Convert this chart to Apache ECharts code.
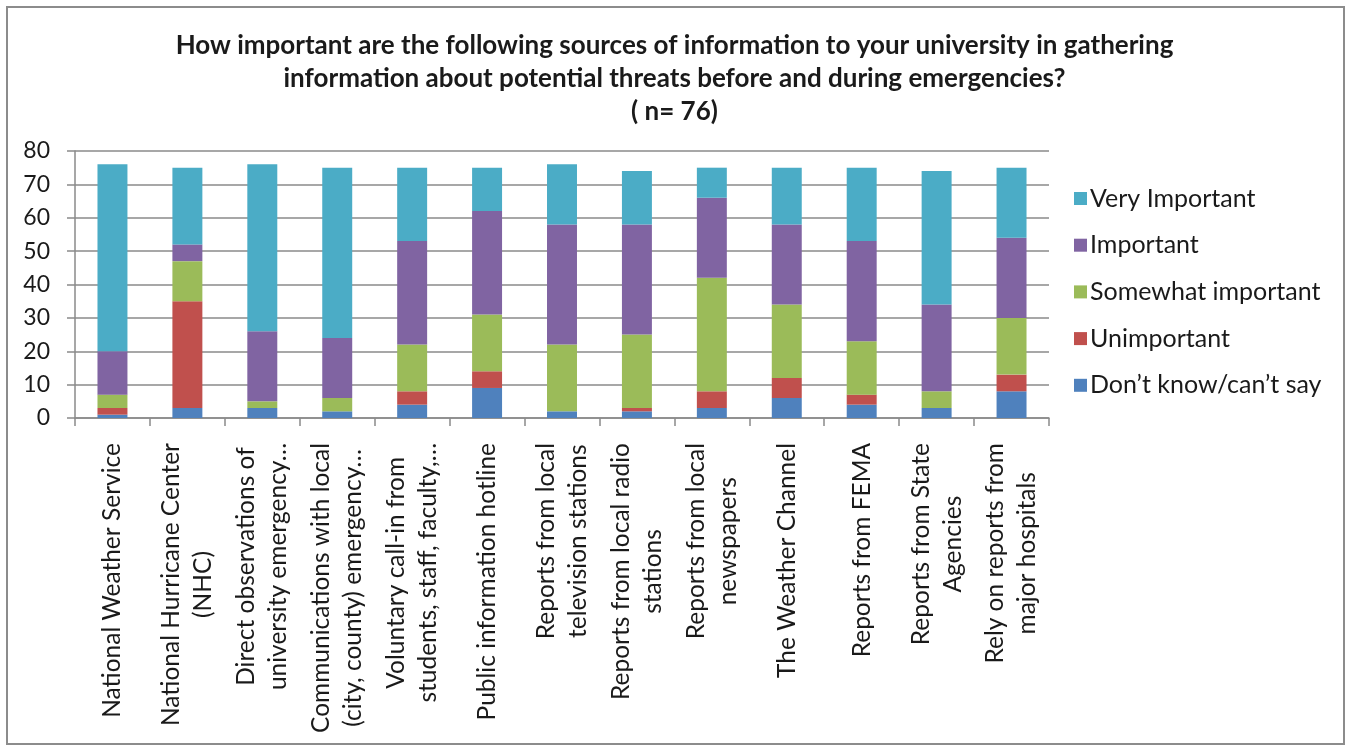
<!DOCTYPE html>
<html>
<head>
<meta charset="utf-8">
<title>Sources of information before and during emergencies</title>
<script src="https://cdn.jsdelivr.net/npm/echarts@6/dist/echarts.min.js"></script>
<style>
  html, body { margin: 0; padding: 0; background: #ffffff; }
  #chart { width: 1349px; height: 748px; }
</style>
</head>
<body>
<div id="chart"></div>
<script>
// Survey sources (each entry is one label, split into its display lines)
const categories = [
  ["National Weather Service"],
  ["National Hurricane Center", "(NHC)"],
  ["Direct observations of", "university emergency\u2026"],
  ["Communications with local", "(city, county) emergency\u2026"],
  ["Voluntary call-in from", "students, staff, faculty,\u2026"],
  ["Public information hotline"],
  ["Reports from local", "television stations"],
  ["Reports from local radio", "stations"],
  ["Reports from local", "newspapers"],
  ["The Weather Channel"],
  ["Reports from FEMA"],
  ["Reports from State", "Agencies"],
  ["Rely on reports from", "major hospitals"]
];

// Response counts per source (n = 76)
const dontKnow      = [1, 3, 3, 2, 4, 9, 2, 2, 3, 6, 4, 3, 8];
const unimportant   = [2, 32, 0, 0, 4, 5, 0, 1, 5, 6, 3, 0, 5];
const somewhat      = [4, 12, 2, 4, 14, 17, 20, 22, 34, 22, 16, 5, 17];
const important     = [13, 5, 21, 18, 31, 31, 36, 33, 24, 24, 30, 26, 24];
const veryImportant = [56, 23, 50, 51, 22, 13, 18, 16, 9, 17, 22, 40, 21];

const yTicks = [0, 10, 20, 30, 40, 50, 60, 70, 80];

const titleLines = [
  "How important are the following sources of information to your university in gathering",
  "information about potential threats before and during emergencies?",
  "( n= 76)"
];

// stacking order from bottom to top
const seriesDefs = [
  { name: "Don\u2019t know/can\u2019t say", data: dontKnow, color: "#4F81BD" },
  { name: "Unimportant", data: unimportant, color: "#C0504D" },
  { name: "Somewhat important", data: somewhat, color: "#9BBB59" },
  { name: "Important", data: important, color: "#8064A2" },
  { name: "Very Important", data: veryImportant, color: "#4BACC6" }
];

const FONT = "Lato";
const TEXT_COLOR = "#1a1a1a";
const GRID_COLOR = "#8a8a8a";

const catKeys = categories.map(function (lines) { return lines.join("\n"); });

const chart = echarts.init(document.getElementById("chart"), null, { renderer: "canvas" });

chart.setOption({
  backgroundColor: "#ffffff",
  animation: false,
  title: {
    text: titleLines.join("\n"),
    left: "center",
    top: 24,
    textStyle: {
      fontFamily: FONT,
      fontSize: 26,
      fontWeight: "bold",
      color: TEXT_COLOR,
      lineHeight: 33
    }
  },
  graphic: [{
    type: "rect",
    shape: { x: 7, y: 7, width: 1337, height: 737 },
    style: { fill: "none", stroke: "#8c8c8c", lineWidth: 2 },
    silent: true
  }],
  legend: {
    orient: "vertical",
    left: 1069,
    top: 181,
    itemWidth: 13,
    itemHeight: 13,
    itemGap: 21.7,
    icon: "rect",
    data: seriesDefs.slice().reverse().map(function (s) { return s.name; }),
    textStyle: {
      fontFamily: FONT,
      fontSize: 25,
      color: TEXT_COLOR,
      lineHeight: 25,
      padding: [0, 0, 0, -2]
    }
  },
  grid: {
    left: 75,
    right: 300,
    top: 151,
    bottom: 330
  },
  xAxis: {
    type: "category",
    data: catKeys,
    axisLine: { show: true, lineStyle: { color: GRID_COLOR, width: 1.5 } },
    axisTick: { show: true, length: 8, lineStyle: { color: GRID_COLOR, width: 1.5 } },
    axisLabel: {
      interval: 0,
      rotate: 90,
      margin: 25,
      color: TEXT_COLOR,
      fontFamily: FONT,
      fontSize: 24,
      formatter: function (value) {
        return value.split("\n").map(function (l) { return "{c|" + l + "}"; }).join("\n");
      },
      rich: {
        c: {
          align: "center",
          fontFamily: FONT,
          fontSize: 24.5,
          color: TEXT_COLOR,
          lineHeight: 32
        }
      }
    }
  },
  yAxis: {
    type: "value",
    min: 0,
    max: 80,
    interval: 10,
    axisLine: { show: true, lineStyle: { color: GRID_COLOR, width: 1.5 } },
    axisTick: { show: true, length: 8, lineStyle: { color: GRID_COLOR, width: 1.5 } },
    splitLine: { show: true, lineStyle: { color: GRID_COLOR, width: 1.5 } },
    axisLabel: {
      margin: 25,
      color: TEXT_COLOR,
      fontFamily: FONT,
      fontSize: 23,
      formatter: function (v) { return yTicks.indexOf(v) >= 0 ? String(v) : ""; }
    }
  },
  series: seriesDefs.map(function (s) {
    return {
      name: s.name,
      type: "bar",
      stack: "total",
      barWidth: "40%",
      data: s.data,
      itemStyle: { color: s.color },
      emphasis: { disabled: true }
    };
  })
});
</script>
</body>
</html>
